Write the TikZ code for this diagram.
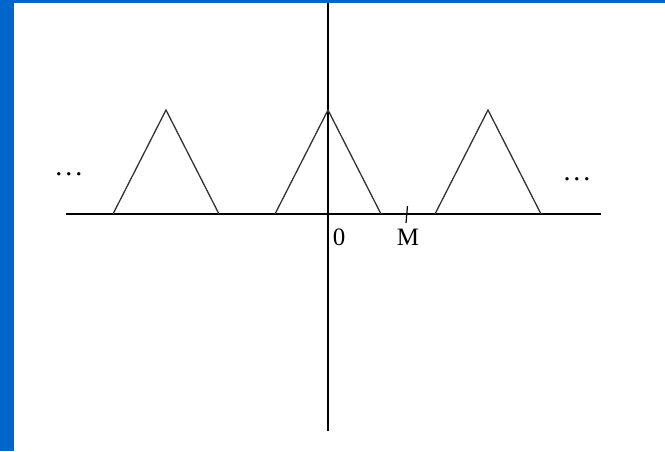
\documentclass[tikz,border=0pt]{standalone}
\usepackage{fontspec}
\setmainfont{Liberation Serif}
\definecolor{frameblue}{HTML}{0066CC}
\begin{document}
\begin{tikzpicture}[x=1pt,y=-1pt,
  axis/.style={line width=1.5pt,black},
  tri/.style={line width=1.3pt,black!80,line join=miter},
  lbl/.style={font=\fontsize{25}{28}\selectfont,inner sep=0pt},
  dots/.style={font=\fontsize{28}{30}\selectfont,inner sep=0pt}]
\useasboundingbox (0,0) rectangle (665,451);
\fill[white] (0,0) rectangle (665,451);
\fill[frameblue] (0,0) rectangle (14,451);
\fill[frameblue] (0,0) rectangle (665,3);
% axes
\coordinate (xl) at (66,214);
\coordinate (xr) at (601,214);
\coordinate (yt) at (328,3);
\coordinate (yb) at (328,431);
\draw[axis] (xl) -- (xr);
\draw[axis] (yt) -- (yb);
% triangles
\coordinate (a1) at (113,214); \coordinate (p1) at (166,110); \coordinate (b1) at (219,214);
\coordinate (a2) at (275,214); \coordinate (p2) at (328,110); \coordinate (b2) at (381,214);
\coordinate (a3) at (435,214); \coordinate (p3) at (488,110); \coordinate (b3) at (541,214);
\draw[tri] (a1) -- (p1) -- (b1);
\draw[tri] (a2) -- (p2) -- (b2);
\draw[tri] (a3) -- (p3) -- (b3);
% tick at M
\coordinate (tt) at (407.5,206);
\coordinate (tb) at (406,223);
\draw[line width=1.2pt] (tt) -- (tb);
% labels
\node[lbl,anchor=base] (zero) at (339,245) {0};
\node[lbl,anchor=base] (m) at (408,245) {M};
\node[dots,anchor=base] (dl) at (69,175) {.\hspace{3pt}.\hspace{3pt}.};
\node[dots,anchor=base] (dr) at (577,180) {.\hspace{3pt}.\hspace{3pt}.};
\end{tikzpicture}
\end{document}
